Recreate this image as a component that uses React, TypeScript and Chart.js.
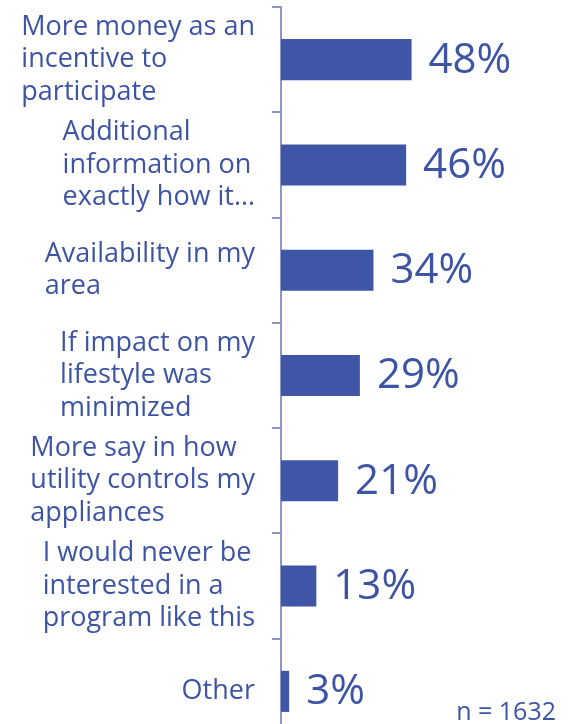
import React, { useEffect, useRef } from "react";
import { Chart, registerables } from "chart.js";

Chart.register(...registerables);

const categories: string[][] = [
  ["More money as an", "incentive to", "participate"],
  ["Additional", "information on", "exactly how it…"],
  ["Availability in my", "area"],
  ["If impact on my", "lifestyle was", "minimized"],
  ["More say in how", "utility controls my", "appliances"],
  ["I would never be", "interested in a", "program like this"],
  ["Other"],
];
const values: number[] = [48, 46, 34, 29, 21, 13, 3];
const sampleNote = "n = 1632";

const BLUE = "#3f56a7";
const TEXT = "#3d54a5";
const AXIS = "#8e96c9";
const FONT = "'Open Sans', sans-serif";

const labelPlugin = {
  id: "customLabels",
  afterDraw(chart: any) {
    const ctx = chart.ctx;
    const yScale = chart.scales.y;
    const area = chart.chartArea;
    ctx.save();
    ctx.fillStyle = TEXT;
    ctx.textBaseline = "middle";
    // category labels: block right-aligned, lines left-aligned
    ctx.font = `27px ${FONT}`;
    const lineH = 32.5;
    const rightEdge = area.left - 26;
    categories.forEach((lines, i) => {
      const cy = yScale.getPixelForValue(i);
      const w = Math.max(...lines.map((l) => ctx.measureText(l).width));
      const x0 = rightEdge - w;
      ctx.textAlign = "left";
      lines.forEach((l, j) => {
        const y = cy + (j - (lines.length - 1) / 2) * lineH;
        ctx.fillText(l, x0, y);
      });
    });
    // value labels
    ctx.font = `42px ${FONT}`;
    const meta = chart.getDatasetMeta(0);
    meta.data.forEach((bar: any, i: number) => {
      ctx.textAlign = "left";
      ctx.fillText(values[i] + "%", bar.x + 17, bar.y + 1);
    });
    // sample size note
    ctx.font = `25px ${FONT}`;
    ctx.textAlign = "right";
    ctx.textBaseline = "alphabetic";
    ctx.fillText(sampleNote, 556, 720);
    ctx.restore();
  },
};

export default function App() {
  const ref = useRef<HTMLCanvasElement | null>(null);
  useEffect(() => {
    if (!ref.current) return;
    const chart = new Chart(ref.current, {
      type: "bar",
      data: {
        labels: categories.map((c) => c.join(" ")),
        datasets: [
          {
            data: values,
            backgroundColor: BLUE,
            borderWidth: 0,
            barPercentage: 0.39,
            categoryPercentage: 1,
          },
        ],
      },
      options: {
        indexAxis: "y",
        animation: false,
        responsive: false,
        maintainAspectRatio: false,
        layout: { padding: { top: 7, right: 22, bottom: 0, left: 0 } },
        plugins: {
          legend: { display: false },
          tooltip: { enabled: false },
          title: { display: false },
        },
        scales: {
          x: { display: false, min: 0, max: 100 },
          y: {
            afterFit: (scale: any) => {
              scale.width = 281;
            },
            ticks: { display: false },
            grid: {
              offset: true,
              drawOnChartArea: false,
              drawTicks: true,
              tickLength: 9,
              color: AXIS,
              lineWidth: 2,
            },
            border: { display: true, color: AXIS, width: 2 },
          },
        },
      },
      plugins: [labelPlugin],
    });
    return () => chart.destroy();
  }, []);
  return (
    <div
      style={{
        position: "fixed",
        left: 0,
        top: 0,
        width: 575,
        height: 724,
        overflow: "hidden",
        background: "#fff",
      }}
    >
      <canvas ref={ref} width={575} height={744} style={{ display: "block" }} />
    </div>
  );
}
